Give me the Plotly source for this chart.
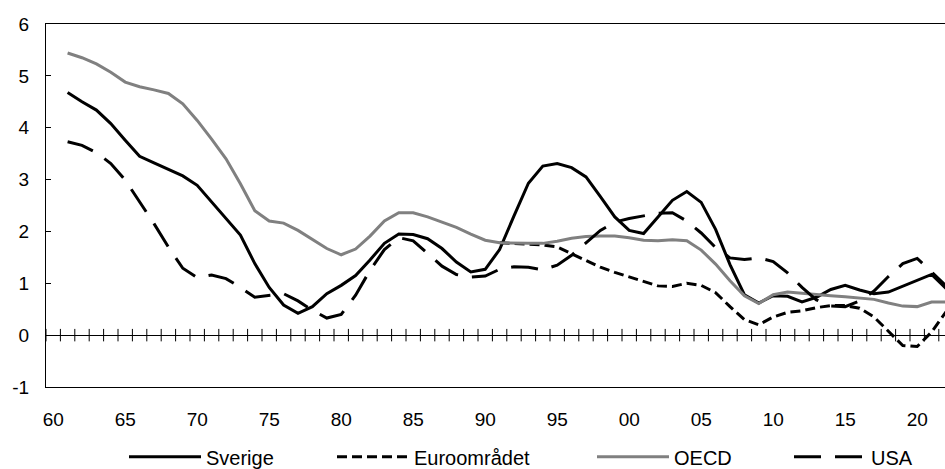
import plotly.graph_objects as go

# years on the category axis
years = list(range(1961, 2023))

sverige = [4.68, 4.50, 4.34, 4.08, 3.76, 3.45, 3.32, 3.20, 3.07, 2.89,
           2.57, 2.27, 1.93, 1.38, 0.92, 0.58, 0.42, 0.55, 0.80, 0.96,
           1.15, 1.45, 1.77, 1.95, 1.94, 1.86, 1.67, 1.41, 1.22, 1.27,
           1.65, 2.30, 2.93, 3.26, 3.31, 3.23, 3.05, 2.67, 2.28, 2.02,
           1.96, 2.28, 2.60, 2.77, 2.56, 2.04, 1.36, 0.78, 0.62, 0.76,
           0.75, 0.64, 0.73, 0.88, 0.96, 0.87, 0.80, 0.83, 0.94, 1.06,
           1.17, 0.90]

# euro area series starts in 1991
euro_years = list(range(1991, 2023))
euroomradet = [1.78, 1.77, 1.75, 1.74, 1.70, 1.57, 1.44, 1.31, 1.21, 1.12,
               1.03, 0.95, 0.94, 1.00, 0.96, 0.82, 0.55, 0.30, 0.20, 0.35,
               0.44, 0.47, 0.53, 0.57, 0.57, 0.52, 0.35, 0.08, -0.20, -0.22,
               0.06, 0.45]

oecd = [5.44, 5.35, 5.23, 5.07, 4.88, 4.79, 4.73, 4.66, 4.46, 4.14,
        3.78, 3.40, 2.92, 2.40, 2.20, 2.16, 2.02, 1.84, 1.67, 1.55,
        1.66, 1.91, 2.20, 2.36, 2.36, 2.28, 2.18, 2.08, 1.95, 1.83,
        1.78, 1.77, 1.77, 1.77, 1.81, 1.87, 1.90, 1.91, 1.91, 1.88,
        1.83, 1.82, 1.84, 1.82, 1.64, 1.37, 1.05, 0.76, 0.61, 0.78,
        0.83, 0.81, 0.78, 0.76, 0.74, 0.72, 0.69, 0.62, 0.56, 0.55,
        0.64, 0.64]

usa = [3.73, 3.66, 3.52, 3.31, 2.99, 2.57, 2.15, 1.70, 1.29, 1.11,
       1.16, 1.09, 0.92, 0.73, 0.77, 0.80, 0.66, 0.48, 0.33, 0.40,
       0.77, 1.25, 1.65, 1.88, 1.82, 1.58, 1.33, 1.17, 1.12, 1.14,
       1.27, 1.32, 1.31, 1.26, 1.35, 1.54, 1.78, 2.02, 2.18, 2.25,
       2.30, 2.35, 2.36, 2.20, 1.97, 1.69, 1.49, 1.46, 1.49, 1.42,
       1.20, 0.92, 0.68, 0.56, 0.55, 0.66, 0.85, 1.13, 1.38, 1.48,
       1.22, 0.95]

x_tickvals = list(range(1960, 2021, 5))
x_ticktext = ["60", "65", "70", "75", "80", "85", "90", "95",
              "00", "05", "10", "15", "20"]
y_tickvals = [-1, 0, 1, 2, 3, 4, 5, 6]
y_ticktext = ["-1", "0", "1", "2", "3", "4", "5", "6"]

FONT = "Arial, Liberation Sans, sans-serif"
PLOT_L, PLOT_W = 46, 899

fig = go.Figure()

# small tick marks crossing the zero line, one at each category boundary
tx, ty = [], []
for yr in range(1960, 2024):
    tx += [yr - 0.5, yr - 0.5, None]
    ty += [-0.12, 0.12, None]
fig.add_trace(go.Scatter(x=tx, y=ty, mode="lines", line=dict(color="black", width=1),
                         showlegend=False, hoverinfo="skip"))

fig.add_trace(go.Scatter(x=years, y=sverige, name="Sverige", mode="lines",
                         line=dict(color="black", width=3), legend="legend"))
fig.add_trace(go.Scatter(x=euro_years, y=euroomradet, name="Euroområdet", mode="lines",
                         line=dict(color="black", width=3, dash="10px,5px"), legend="legend2"))
fig.add_trace(go.Scatter(x=years, y=oecd, name="OECD", mode="lines",
                         line=dict(color="#808080", width=3), legend="legend3"))
fig.add_trace(go.Scatter(x=years, y=usa, name="USA", mode="lines",
                         line=dict(color="black", width=3, dash="27px,14px"), legend="legend4"))


def legend_at(px):
    # one legend box per series so the entries can sit where the reference has them
    return dict(orientation="h", x=(px - PLOT_L) / PLOT_W, xanchor="left",
                yref="container", y=0.026, yanchor="middle", itemwidth=72,
                font=dict(family=FONT, size=20, color="black"), bgcolor="rgba(0,0,0,0)")


fig.update_layout(
    width=945, height=469,
    margin=dict(l=PLOT_L, r=0, t=24, b=82, autoexpand=False),
    paper_bgcolor="white", plot_bgcolor="white",
    font=dict(family=FONT, size=19, color="black"),
    xaxis=dict(range=[1959.5, 1959.5 + PLOT_W / 14.4], tickvals=x_tickvals, ticktext=x_ticktext,
               ticks="", showline=True, linecolor="black", linewidth=1, mirror=True,
               showgrid=False, zeroline=False, ticklabelstandoff=15),
    yaxis=dict(range=[-1, 6], tickvals=y_tickvals, ticktext=y_ticktext, ticks="inside",
               ticklen=5, tickcolor="black", showline=True, linecolor="black", linewidth=1,
               showgrid=False, zeroline=True, zerolinecolor="black", zerolinewidth=1,
               ticklabelstandoff=12),
    legend=legend_at(124),
    legend2=legend_at(332),
    legend3=legend_at(592),
    legend4=legend_at(789),
    showlegend=True,
)

# the page's default body margin would shift the chart by 8px
fig.write_html("out.html", config={"displayModeBar": False},
               post_script="document.body.style.margin='0';")
